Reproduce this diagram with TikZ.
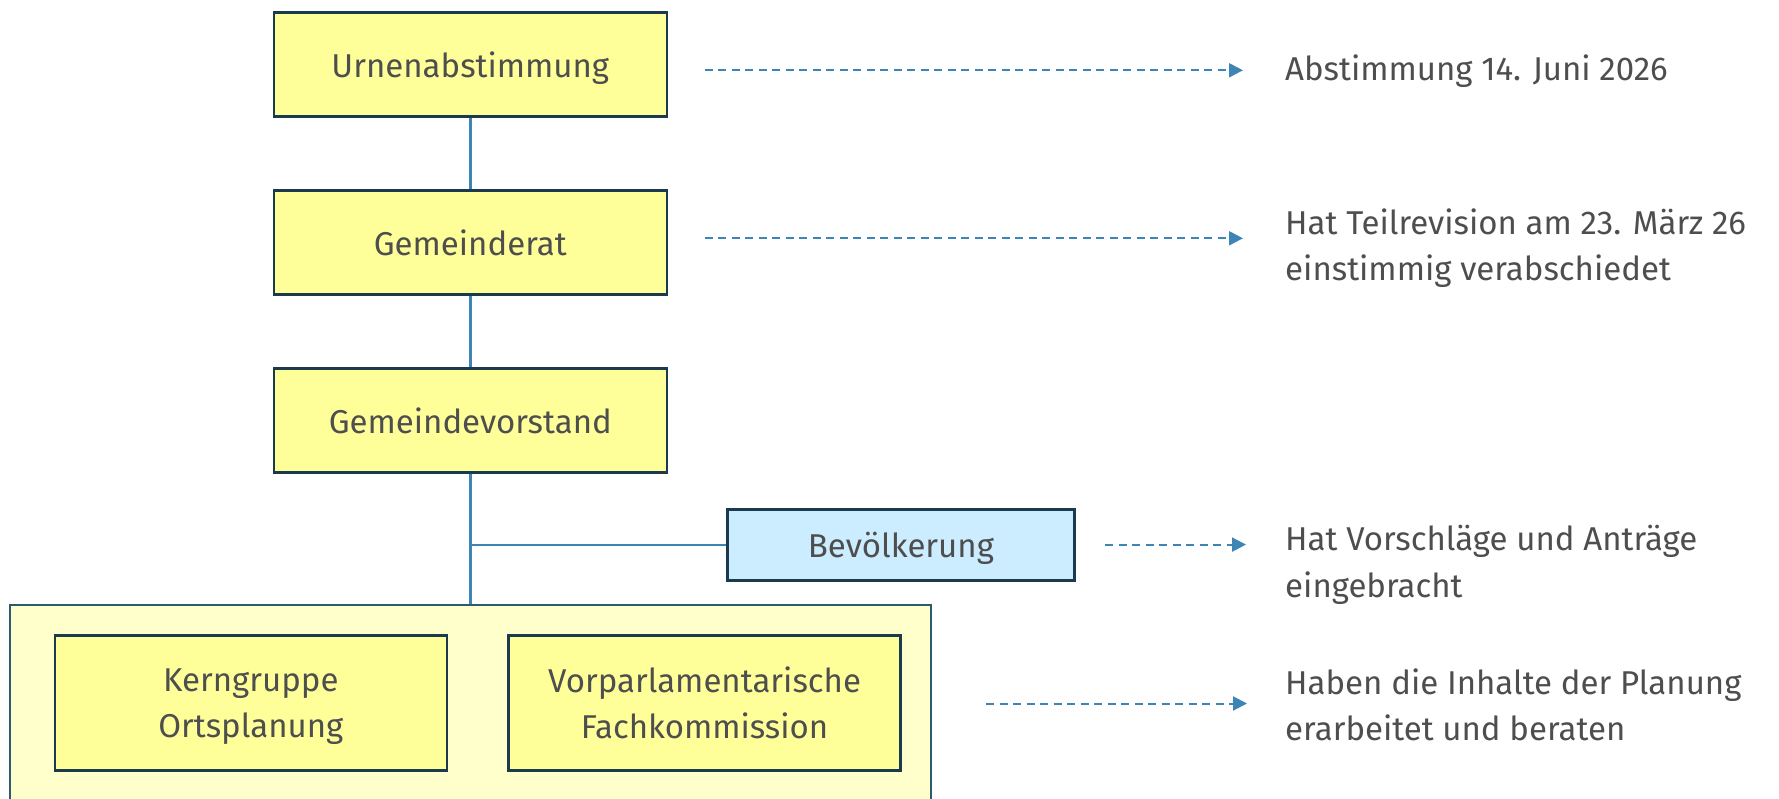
\documentclass[tikz,border=0pt]{standalone}
\usepackage{fontspec}
\setmainfont{Fira Sans}
\usetikzlibrary{arrows.meta}
\definecolor{boxfill}{HTML}{FFFF99}
\definecolor{boxdraw}{HTML}{1C3A4E}
\definecolor{linkblue}{HTML}{3D85B5}
\definecolor{grpfill}{HTML}{FFFFCC}
\definecolor{grpdraw}{HTML}{2E5A6E}
\definecolor{bevfill}{HTML}{CCECFF}
\definecolor{txt}{HTML}{4E4E4E}
\tikzset{
  orgbox/.style={draw=boxdraw, line width=2.6pt, fill=boxfill, inner sep=0pt,
    minimum width=393pt, minimum height=104pt, align=center, text=txt,
    text depth=0pt, font=\fontsize{33}{46}\selectfont},
  subbox/.style={orgbox, minimum width=392pt, minimum height=135pt},
  bevbox/.style={orgbox, fill=bevfill, minimum width=347pt, minimum height=71pt},
  grpbox/.style={draw=grpdraw, line width=1.8pt, fill=grpfill, inner sep=0pt,
    minimum width=921pt, minimum height=230pt},
  link/.style={draw=linkblue, line width=2.4pt},
  note/.style={text=txt, anchor=west, align=left, inner sep=0pt,
    font=\fontsize{33}{46.5}\selectfont},
  dasharrow/.style={draw=linkblue, line width=2pt, dash pattern=on 8pt off 5.5pt,
    -{Triangle[length=14pt,width=14pt]}},
}
\begin{document}
\begin{tikzpicture}[x=1pt,y=-1pt]
\useasboundingbox (0,0) rectangle (1779,799);
\clip (0,0) rectangle (1779,799);
\fill[white] (0,0) rectangle (1779,799);
% group container
\node[grpbox] (grp) at (470.5,720) {};
% boxes
\node[orgbox] (urne) at (470.3,64.5) {Urnenabstimmung};
\node[orgbox] (rat) at (470.3,242.3) {Gemeinderat};
\node[orgbox] (vorst) at (470.3,420.4) {Gemeindevorstand};
\node[bevbox] (bev) at (900.9,545.2) {Bevölkerung};
\node[subbox] (kern) at (250.8,702.9) {Kerngruppe\\Ortsplanung};
\node[subbox] (fach) at (704.6,702.9) {Vorparlamentarische\\Fachkommission};
% connectors
\draw[link] (urne.south) -- (rat.north);
\draw[link] (rat.south) -- (vorst.north);
\draw[link] (vorst.south) -- (vorst.south |- grp.north);
\coordinate (junc) at (vorst.south |- bev.west);
\draw[link] (junc) -- (bev.west);
% notes
\node[note] (n1) at (1285,71) {Abstimmung 14. Juni 2026};
\node[note] (n2) at (1285,248) {Hat Teilrevision am 23. März 26\\einstimmig verabschiedet};
\node[note] (n3) at (1285,565) {Hat Vorschläge und Anträge\\eingebracht};
\node[note] (n4) at (1285,705) {Haben die Inhalte der Planung\\erarbeitet und beraten};
% dashed arrows
\coordinate (a1) at (704.6,70.3);  \coordinate (b1) at (1243,70.3);
\coordinate (a2) at (704.6,238.3); \coordinate (b2) at (1243,238.3);
\coordinate (a3) at (1105,544.6);  \coordinate (b3) at (1246,544.6);
\coordinate (a4) at (986,703.5);   \coordinate (b4) at (1247,703.5);
\draw[dasharrow] (a1) -- (b1);
\draw[dasharrow] (a2) -- (b2);
\draw[dasharrow] (a3) -- (b3);
\draw[dasharrow] (a4) -- (b4);
\end{tikzpicture}
\end{document}
